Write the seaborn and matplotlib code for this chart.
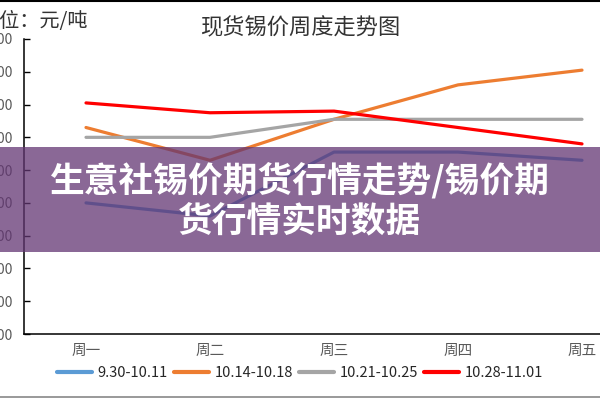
import pandas as pd
import matplotlib.pyplot as plt
from matplotlib.patches import Rectangle
from matplotlib.lines import Line2D
from matplotlib.ticker import FixedLocator, StrMethodFormatter
import seaborn as sns

sns.set_style('white')
plt.rcParams['font.family'] = ['Noto Sans CJK SC', 'DejaVu Sans']

days = ['周一', '周二', '周三', '周四', '周五']
weeks = ['9.30-10.11', '10.14-10.18', '10.21-10.25', '10.28-11.01']
w1 = [138000, 137600, 139550, 139550, 139300]
w2 = [140300, 139300, 140550, 141600, 142050]
w3 = [140000, 140000, 140550, 140550, 140550]
w4 = [141050, 140750, 140800, 140300, 139800]
yticks = list(range(134000, 143001, 1000))
colors = ['#5b9bd5', '#ed7d31', '#a5a5a5', '#ff0000']

rows = []
for wk, vals in zip(weeks, [w1, w2, w3, w4]):
    for d, v in zip(days, vals):
        rows.append({'day': d, 'week': wk, 'price': v})
data = pd.DataFrame(rows)

fig = plt.figure(figsize=(6, 4), dpi=100)
ax = fig.add_axes([24 / 600, 66 / 400, 620 / 600, 295 / 400])

sns.lineplot(data=data, x='day', y='price', hue='week', hue_order=weeks,
             palette=dict(zip(weeks, colors)), linewidth=2.3, sort=False, ax=ax)

ax.set_xlim(-0.5, 4.5)
ax.set_ylim(yticks[0], yticks[-1])
ax.set_yticks(yticks)
ax.yaxis.set_major_formatter(StrMethodFormatter('{x:.0f}'))
ax.xaxis.set_minor_locator(FixedLocator([0.5, 1.5, 2.5, 3.5]))
ax.tick_params(axis='x', which='major', length=0, pad=7, labelsize=10.5, labelcolor='#595959')
ax.tick_params(axis='x', which='minor', direction='in', length=4.5, width=1, color='black')
ax.tick_params(axis='y', direction='in', length=4.5, width=1, color='black', pad=8,
               labelsize=10, labelcolor='#595959', left=True)
ax.set_xlabel('')
ax.set_ylabel('')
for side in ['top', 'right']:
    ax.spines[side].set_visible(False)
for side in ['left', 'bottom']:
    ax.spines[side].set_color('black')
    ax.spines[side].set_linewidth(1.1)

sns.move_legend(ax, 'center', bbox_to_anchor=(0.5, 1 - 373 / 400), bbox_transform=fig.transFigure,
                ncol=4, frameon=False, title=None, fontsize=10.5, handlelength=2.4,
                handletextpad=0.4, columnspacing=0.4)
for line in ax.get_legend().get_lines():
    line.set_linewidth(3)

fig.text(0.5, 1 - 28 / 400, '现货锡价周度走势图', ha='center', va='center',
         fontsize=16, color='#333333')
fig.text(88 / 600, 1 - 21 / 400, '单位：元/吨', ha='right', va='center',
         fontsize=14.5, color='#333333')

# purple banner over the chart
fig.add_artist(Rectangle((0, 1 - 252 / 400), 1, 105 / 400, transform=fig.transFigure,
                         facecolor='#633673', alpha=0.75, edgecolor='none', zorder=5))
fig.text(0.5, 1 - 180 / 400, '生意社锡价期货行情走势/锡价期', ha='center', va='center',
         fontsize=25, fontweight='bold', color='white', zorder=6)
fig.text(0.5, 1 - 221 / 400, '货行情实时数据', ha='center', va='center',
         fontsize=25, fontweight='bold', color='white', zorder=6)

# frame lines at top and bottom
fig.add_artist(Line2D([0, 1], [0.998, 0.998], transform=fig.transFigure, color='black', lw=1.5))
fig.add_artist(Line2D([0, 1], [1 - 397 / 400, 1 - 397 / 400], transform=fig.transFigure,
                      color='#888888', lw=1.2))

fig.savefig('out.png', dpi=100)
